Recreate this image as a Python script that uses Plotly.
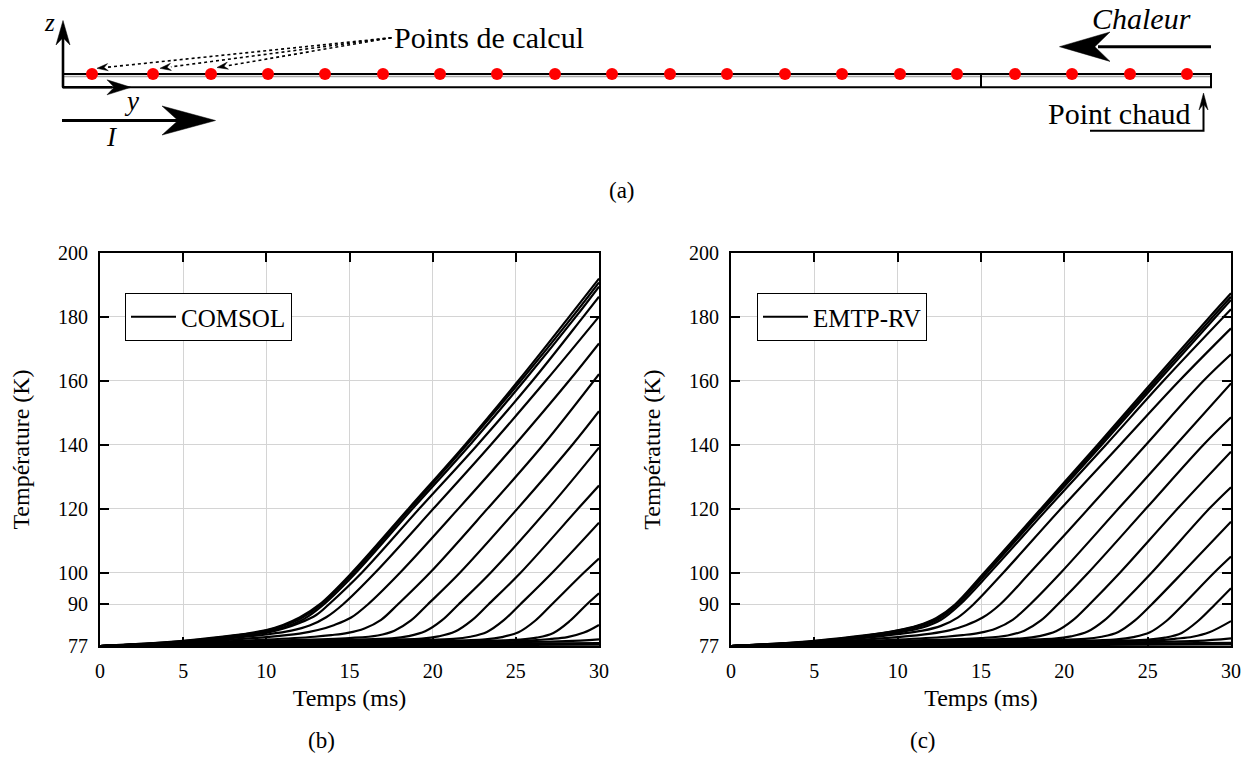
import math
import plotly.graph_objects as go

W, H = 1253, 772
FONT = "Liberation Serif"

# ---------------- (a) schematic: positions of the calculation points along the conductor
points_calcul = [92, 153, 211, 268, 325, 383, 440, 497, 555, 612, 670, 727,
                 785, 842, 900, 957, 1015, 1072, 1130, 1187]

time_ticks = [0, 5, 10, 15, 20, 25, 30]
temp_ticks = [77, 90, 100, 120, 140, 160, 180, 200]

# ---------------- (b) COMSOL curves: time (ms) / temperature (K)
t_b01 = [0, 3, 5, 8, 10, 11, 12, 13.2, 15.15, 18.55, 21.95, 25.15, 28.2, 30]
T_b01 = [77, 77.8, 78.6, 80.3, 82.0, 83.6, 85.9, 90, 100, 120, 140, 160, 180, 192.0]
t_b02 = [0, 3, 5, 8, 10, 11.05, 12.1, 13.3, 15.25, 18.65, 22.05, 25.3, 28.4, 30]
T_b02 = [77, 77.8, 78.5, 80.2, 81.8, 83.4, 85.7, 90, 100, 120, 140, 160, 180, 190.8]
t_b03 = [0, 3, 5, 8, 10, 11.2, 12.25, 13.45, 15.4, 18.8, 22.25, 25.5, 28.6, 30]
T_b03 = [77, 77.7, 78.4, 80.0, 81.5, 83.1, 85.4, 90, 100, 120, 140, 160, 180, 189.5]
t_b04 = [0, 3, 5, 8, 10, 11, 12, 13, 13.75, 15.75, 19.2, 22.7, 26.0, 29.05, 30]
T_b04 = [77, 77.7, 78.3, 79.8, 81.1, 82.4, 84.2, 86.7, 90, 100, 120, 140, 160, 180, 186.3]
t_b05 = [0, 3, 5, 8, 10, 11.5, 12.6, 13.6, 14.6, 16.55, 20.05, 23.5, 26.8, 30]
T_b05 = [77, 77.6, 78.2, 79.5, 80.6, 81.8, 83.4, 86.0, 90, 100, 120, 140, 160, 180.1]
t_b06 = [0, 5, 10, 12, 13.1, 14.1, 15.1, 16.1, 18.05, 21.55, 24.95, 28.2, 30]
T_b06 = [77, 78.0, 79.8, 80.9, 82.0, 83.6, 85.9, 90, 100, 120, 140, 160, 171.7]
t_b07 = [0, 5, 10, 12.9, 13.9, 14.9, 15.9, 16.9, 17.9, 19.85, 23.3, 26.65, 30]
T_b07 = [77, 77.9, 79.0, 79.9, 80.4, 81.1, 82.5, 85.2, 90, 100, 120, 140, 162.1]
t_b08 = [0, 5, 10, 15, 16.7, 17.7, 18.7, 19.7, 21.65, 25.1, 28.4, 30]
T_b08 = [77, 77.8, 78.6, 79.5, 80.3, 81.8, 85.0, 90, 100, 120, 140, 150.5]
t_b09 = [0, 5, 10, 15, 17.55, 18.55, 19.55, 20.55, 21.55, 23.5, 26.95, 30]
T_b09 = [77, 77.7, 78.4, 79.0, 79.4, 80.1, 81.6, 85.0, 90, 100, 120, 139.1]
t_b10 = [0, 5, 10, 15, 19.35, 20.35, 21.35, 22.35, 23.35, 25.3, 28.75, 30]
T_b10 = [77, 77.6, 78.2, 78.7, 79.3, 80.0, 81.5, 85.0, 90, 100, 120, 127.2]
t_b11 = [0, 5, 10, 15, 21.26, 22.26, 23.26, 24.26, 25.26, 27.2, 30]
T_b11 = [77, 77.5, 78.0, 78.5, 79.2, 79.9, 81.4, 85.0, 90, 100, 115.6]
t_b12 = [0, 10, 20, 23.16, 24.16, 25.16, 26.16, 27.16, 29.1, 30]
T_b12 = [77, 77.9, 78.6, 79.1, 79.8, 81.3, 84.9, 90, 100, 104.4]
t_b13 = [0, 10, 20, 25.26, 26.26, 27.26, 28.26, 29.26, 30]
T_b13 = [77, 77.8, 78.4, 79.0, 79.6, 81.1, 84.9, 90, 93.5]
t_b14 = [0, 10, 20, 26, 27.1, 28.1, 29.1, 30]
T_b14 = [77, 77.7, 78.3, 78.8, 79.2, 79.8, 81.2, 83.6]
t_b15 = [0, 10, 20, 25, 28, 30]
T_b15 = [77, 77.5, 77.9, 78.2, 78.5, 79.1]
t_b16 = [0, 10, 20, 30]
T_b16 = [77, 77.3, 77.6, 77.9]
t_b17 = [0, 15, 30]
T_b17 = [77, 77.2, 77.4]

# ---------------- (c) EMTP-RV curves: time (ms) / temperature (K)
t_c01 = [0, 3, 5, 8, 10, 11.2, 12.3, 13.44, 15.2, 18.6, 22.0, 25.35, 28.72, 30]
T_c01 = [77, 77.8, 78.6, 80.3, 81.9, 83.4, 85.7, 90, 100, 120, 140, 160, 180, 187.4]
t_c02 = [0, 3, 5, 8, 10, 11.25, 12.35, 13.5, 15.28, 18.7, 22.12, 25.5, 28.9, 30]
T_c02 = [77, 77.8, 78.5, 80.2, 81.8, 83.3, 85.6, 90, 100, 120, 140, 160, 180, 186.3]
t_c03 = [0, 3, 5, 8, 10, 11.35, 12.45, 13.6, 15.38, 18.8, 22.25, 25.65, 29.08, 30]
T_c03 = [77, 77.7, 78.4, 80.0, 81.6, 83.1, 85.4, 90, 100, 120, 140, 160, 180, 185.3]
t_c04 = [0, 3, 5, 8, 10, 11.5, 12.6, 13.74, 15.55, 19.0, 22.5, 25.95, 30]
T_c04 = [77, 77.7, 78.3, 79.8, 81.2, 82.8, 85.2, 90, 100, 120, 140, 160, 182.4]
t_c05 = [0, 3, 5, 8, 10, 11.5, 12.6, 13.6, 14.54, 16.35, 19.8, 23.35, 26.9, 30]
T_c05 = [77, 77.6, 78.2, 79.5, 80.7, 81.8, 83.3, 85.9, 90, 100, 120, 140, 160, 176.4]
t_c06 = [0, 5, 10, 12, 13.1, 14.1, 15.1, 16.14, 17.95, 21.45, 24.9, 28.35, 30]
T_c06 = [77, 78.0, 79.8, 80.9, 81.9, 83.5, 85.9, 90, 100, 120, 140, 160, 168.3]
t_c07 = [0, 5, 10, 12.9, 13.9, 14.9, 15.9, 16.9, 17.94, 19.8, 23.25, 26.7, 30]
T_c07 = [77, 77.9, 79.0, 79.9, 80.4, 81.1, 82.5, 85.2, 90, 100, 120, 140, 159.2]
t_c08 = [0, 5, 10, 15, 16.6, 17.6, 18.6, 19.6, 21.45, 24.9, 28.35, 30]
T_c08 = [77, 77.8, 78.6, 79.5, 80.3, 81.8, 85.0, 90, 100, 120, 140, 148.6]
t_c09 = [0, 5, 10, 15, 17.5, 18.5, 19.5, 20.5, 21.5, 23.35, 26.8, 30]
T_c09 = [77, 77.7, 78.4, 79.0, 79.4, 80.1, 81.6, 85.0, 90, 100, 120, 137.8]
t_c10 = [0, 5, 10, 15, 19.4, 20.4, 21.4, 22.4, 23.4, 25.25, 28.7, 30]
T_c10 = [77, 77.6, 78.2, 78.7, 79.3, 80.0, 81.5, 85.0, 90, 100, 120, 126.7]
t_c11 = [0, 5, 10, 15, 21.24, 22.24, 23.24, 24.24, 25.24, 27.1, 30]
T_c11 = [77, 77.5, 78.0, 78.5, 79.2, 79.9, 81.4, 85.0, 90, 100, 115.9]
t_c12 = [0, 10, 20, 23.14, 24.14, 25.14, 26.14, 27.14, 29.0, 30]
T_c12 = [77, 77.9, 78.6, 79.1, 79.8, 81.3, 84.9, 90, 100, 105.0]
t_c13 = [0, 10, 20, 25.04, 26.04, 27.04, 28.04, 29.04, 30]
T_c13 = [77, 77.8, 78.4, 79.0, 79.6, 81.1, 84.9, 90, 95.1]
t_c14 = [0, 10, 20, 25.6, 26.7, 27.7, 28.7, 30]
T_c14 = [77, 77.7, 78.3, 78.8, 79.3, 79.9, 81.3, 84.8]
t_c15 = [0, 10, 20, 25, 28, 30]
T_c15 = [77, 77.5, 77.9, 78.2, 78.6, 79.4]
t_c16 = [0, 10, 20, 30]
T_c16 = [77, 77.3, 77.6, 78.0]
t_c17 = [0, 15, 30]
T_c17 = [77, 77.2, 77.5]

comsol_curves = [(t_b01, T_b01), (t_b02, T_b02), (t_b03, T_b03), (t_b04, T_b04),
                 (t_b05, T_b05), (t_b06, T_b06), (t_b07, T_b07), (t_b08, T_b08),
                 (t_b09, T_b09), (t_b10, T_b10), (t_b11, T_b11), (t_b12, T_b12),
                 (t_b13, T_b13), (t_b14, T_b14), (t_b15, T_b15), (t_b16, T_b16),
                 (t_b17, T_b17)]
emtp_curves = [(t_c01, T_c01), (t_c02, T_c02), (t_c03, T_c03), (t_c04, T_c04),
               (t_c05, T_c05), (t_c06, T_c06), (t_c07, T_c07), (t_c08, T_c08),
               (t_c09, T_c09), (t_c10, T_c10), (t_c11, T_c11), (t_c12, T_c12),
               (t_c13, T_c13), (t_c14, T_c14), (t_c15, T_c15), (t_c16, T_c16),
               (t_c17, T_c17)]

fig = go.Figure()

LINE = dict(color="black", width=2.2, shape="spline", smoothing=1.0)

for i, (t, T) in enumerate(comsol_curves):
    fig.add_trace(go.Scatter(x=t, y=T, mode="lines", line=LINE, xaxis="x", yaxis="y",
                             name="COMSOL", showlegend=(i == 0), legend="legend",
                             hoverinfo="skip"))
for i, (t, T) in enumerate(emtp_curves):
    fig.add_trace(go.Scatter(x=t, y=T, mode="lines", line=LINE, xaxis="x2", yaxis="y2",
                             name="EMTP-RV", showlegend=(i == 0), legend="legend2",
                             hoverinfo="skip"))

# calculation points of the schematic (diagram axis, pixel-like units)
CONDUCTOR_TOP = 74
fig.add_trace(go.Scatter(x=points_calcul, y=[CONDUCTOR_TOP] * len(points_calcul),
                         mode="markers", marker=dict(color="#ff0000", size=12),
                         xaxis="x3", yaxis="y3", showlegend=False, hoverinfo="skip"))

tickfont = dict(family=FONT, size=20, color="black")
titlefont = dict(family=FONT, size=24, color="black")


def xax(domain, anchor):
    return dict(domain=domain, anchor=anchor, range=[0, 30], tickvals=time_ticks,
                ticks="inside", ticklen=9, tickwidth=1.5, tickcolor="black",
                showline=True, linecolor="black", linewidth=2, mirror="ticks",
                showgrid=True, gridcolor="#d4d4d4", gridwidth=1, zeroline=False,
                tickfont=tickfont, ticklabelstandoff=6,
                title=dict(text="Temps (ms)", font=titlefont, standoff=8),
                fixedrange=True)


def yax(domain, anchor):
    return dict(domain=domain, anchor=anchor, range=[77, 200], tickvals=temp_ticks,
                ticks="inside", ticklen=9, tickwidth=1.5, tickcolor="black",
                showline=True, linecolor="black", linewidth=2, mirror="ticks",
                showgrid=True, gridcolor="#d4d4d4", gridwidth=1, zeroline=False,
                tickfont=tickfont, ticklabelstandoff=6,
                title=dict(text="Température (K)", font=titlefont, standoff=22),
                fixedrange=True)


ydom = [1 - 646 / H, 1 - 253 / H]

# ---------------- schematic shapes (diagram axis x3/y3: 1 unit = 1 px, y downward)
shapes = []


def seg(x0, y0, x1, y1, width=2.5, dash=None, color="black"):
    line = dict(color=color, width=width)
    if dash:
        line["dash"] = dash
    shapes.append(dict(type="line", xref="x3", yref="y3", x0=x0, y0=y0, x1=x1, y1=y1,
                       line=line))


def stealth(tip, back, hw, notch=0.3):
    dx, dy = tip[0] - back[0], tip[1] - back[1]
    L = math.hypot(dx, dy)
    nx, ny = -dy / L, dx / L
    p1 = (back[0] + nx * hw, back[1] + ny * hw)
    p2 = (back[0] + dx * notch, back[1] + dy * notch)
    p3 = (back[0] - nx * hw, back[1] - ny * hw)
    path = "M{:.2f},{:.2f} L{:.2f},{:.2f} L{:.2f},{:.2f} L{:.2f},{:.2f} Z".format(
        tip[0], tip[1], p1[0], p1[1], p2[0], p2[1], p3[0], p3[1])
    shapes.append(dict(type="path", xref="x3", yref="y3", path=path,
                       fillcolor="black", line=dict(color="black", width=0.5)))


# conductor
shapes.append(dict(type="rect", xref="x3", yref="y3", x0=63, x1=1211, y0=CONDUCTOR_TOP,
                   y1=87.3, line=dict(color="black", width=2), layer="below"))
shapes.append(dict(type="line", xref="x3", yref="y3", x0=64, x1=1210, y0=76.6, y1=76.6,
                   line=dict(color="#a8a8a8", width=1.5), layer="below"))
shapes.append(dict(type="line", xref="x3", yref="y3", x0=981, x1=981,
                   y0=CONDUCTOR_TOP, y1=87.3, line=dict(color="black", width=2),
                   layer="below"))
# z / y axes
seg(63, 87.3, 63, 36, width=2.6)
stealth((63, 20.5), (63, 45), 7)
seg(63, 87.3, 112, 87.3, width=2.6)
stealth((131, 87.3), (107, 87.3), 7.5)
# current I
seg(62, 120.5, 178, 120.5, width=3)
stealth((215.5, 120.5), (162, 120.5), 14.5)
# heat
seg(1211, 46.7, 1098, 46.7, width=3)
stealth((1059.5, 46.7), (1110, 46.7), 14.7)
# hot spot
shapes.append(dict(type="path", xref="x3", yref="y3",
                   path="M1090,130.7 L1203.5,130.7 L1203.5,104",
                   line=dict(color="black", width=2)))
stealth((1203.5, 93), (1203.5, 110), 4.5, notch=0.35)
# dotted pointers to the first calculation points
src = (391.5, 37.7)
for tip in [(97, 68.3), (160, 68.3), (217, 67.5)]:
    dx, dy = src[0] - tip[0], src[1] - tip[1]
    L = math.hypot(dx, dy)
    back = (tip[0] + dx / L * 11, tip[1] + dy / L * 11)
    seg(src[0], src[1], back[0], back[1], width=1.6, dash="dot")
    stealth(tip, back, 3.6, notch=0.35)

ann = []


def txt(x, y, s, size, xanchor="center", ref="x3"):
    ann.append(dict(x=x, y=y, xref=ref, yref=ref.replace("x", "y"), text=s,
                    showarrow=False, xanchor=xanchor, yanchor="middle",
                    font=dict(family=FONT, size=size, color="black")))


txt(49, 22, "<i>z</i>", 25)
txt(131, 101, "<i>y</i>", 27)
txt(112, 137, "<i>I</i>", 27)
txt(392, 37, "Points de calcul", 30, xanchor="left")
txt(1141, 18, "<i>Chaleur</i>", 30)
txt(1119, 113, "Point chaud", 30)
txt(622, 190, "(a)", 23)
ann.append(dict(x=306 / W, y=1 - 755 / H, xref="paper", yref="paper", text="(b)",
                showarrow=False, font=dict(family=FONT, size=23, color="black")))
ann.append(dict(x=938 / W, y=1 - 755 / H, xref="paper", yref="paper", text="(c)",
                showarrow=False, font=dict(family=FONT, size=23, color="black")))

legend_style = dict(xanchor="left", yanchor="top", bgcolor="white",
                    bordercolor="black", borderwidth=1, itemwidth=45,
                    font=dict(family=FONT, size=25, color="black"))

fig.update_layout(
    template="none",
    width=W, height=H,
    margin=dict(l=0, r=0, t=0, b=0),
    paper_bgcolor="white", plot_bgcolor="white",
    font=dict(family=FONT, color="black"),
    xaxis=xax([100 / W, 599 / W], "y"),
    yaxis=yax(ydom, "x"),
    xaxis2=xax([731 / W, 1231 / W], "y2"),
    yaxis2=yax(ydom, "x2"),
    xaxis3=dict(domain=[0, 1], anchor="y3", range=[0, W], visible=False, fixedrange=True),
    yaxis3=dict(domain=[1 - 200 / H, 1], anchor="x3", range=[200, 0], visible=False,
                fixedrange=True),
    legend=dict(x=125 / W, y=1 - 293 / H, **legend_style),
    legend2=dict(x=757 / W, y=1 - 293 / H, **legend_style),
    shapes=shapes,
    annotations=ann,
)

fig.write_html("out.html", config={"displayModeBar": False},
               post_script="document.body.style.margin='0';")
